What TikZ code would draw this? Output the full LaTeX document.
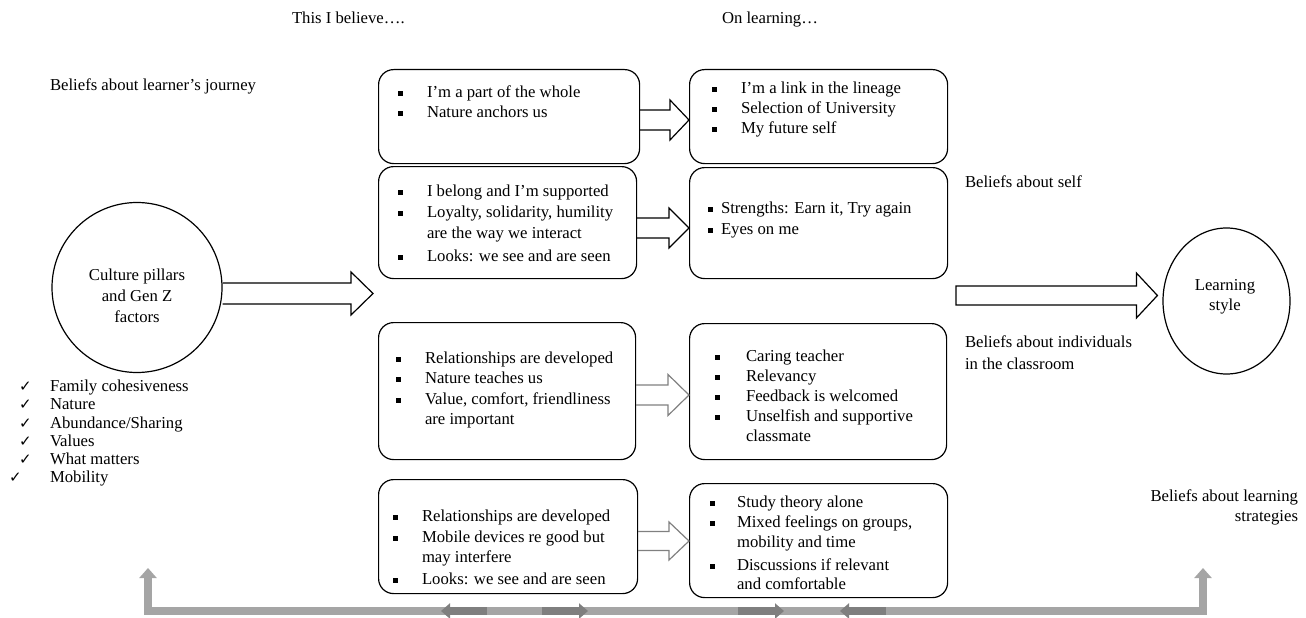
\documentclass[tikz,border=0pt]{standalone}
\usepackage{fontspec}
\setmainfont{Liberation Serif}
\newfontfamily\symf{DejaVu Sans}
\usetikzlibrary{calc,arrows.meta,shapes.geometric}
\definecolor{lgray}{HTML}{A5A5A5}
\definecolor{dgray}{HTML}{7F7F7F}
\definecolor{agray}{HTML}{808080}
\newcommand\fs{\fontsize{16.7}{20}\selectfont}
% text line: name, x, y(centre), text
\newcommand\tline[4]{\node[txt,anchor=base west] (#1) at (#2,#3+5.5) {#4};}
% bullet: name, x(left), y(centre)
\newcommand\bul[3]{\node[bulsq] (#1) at (#2+2.5,#3+1) {};}
% block arrow: style, start, tip, shaft half, head half, head length
\newcommand\barrow[6]{%
  \draw[#1] let \p1=#2, \p2=#3 in
  (\x1,\y1+#4) -- (\x2-#6,\y1+#4) -- (\x2-#6,\y1+#5) -- (\x2,\y2)
  -- (\x2-#6,\y1-#5) -- (\x2-#6,\y1-#4) -- (\x1,\y1-#4);}
\begin{document}
\begin{tikzpicture}[x=1pt,y=-1pt,
  txt/.style={font=\fs, inner sep=0pt, outer sep=0pt},
  bx/.style={draw, line width=1.2pt, rounded corners=15pt, anchor=north west, inner sep=0pt},
  bulsq/.style={fill=black, inner sep=0pt, minimum size=5pt},
  chk/.style={font=\symf\fontsize{15}{15}\selectfont, inner sep=0pt, anchor=base west},
  arblack/.style={draw=black, line width=1.2pt, line join=miter},
  argray/.style={draw=agray, line width=1.2pt, line join=miter}]
\useasboundingbox (0,0) rectangle (1306,618);

% headers and side labels
\tline{h1}{292}{18}{This I believe….}
\tline{h2}{722}{18}{On learning…}
\tline{lj}{50}{85}{Beliefs about learner’s journey}
\tline{bs}{965}{182}{Beliefs about self}
\tline{bi1}{965}{342}{Beliefs about individuals}
\tline{bi2}{965}{364}{in the classroom}
\node[txt,anchor=base east] (bls1) at (1298,501.5) {Beliefs about learning};
\node[txt,anchor=base east] (bls2) at (1298,521.5) {strategies};

% boxes
\node[bx, minimum width=261pt, minimum height=94pt] (a1) at (378,69) {};
\node[bx, minimum width=258pt, minimum height=94pt] (b1) at (689,69) {};
\node[bx, minimum width=258pt, minimum height=112pt] (a2) at (378,166) {};
\node[bx, minimum width=258pt, minimum height=111pt] (b2) at (689,167) {};
\node[bx, minimum width=257pt, minimum height=137pt] (a3) at (378,322) {};
\node[bx, minimum width=257pt, minimum height=136pt] (b3) at (689,323) {};
\node[bx, minimum width=259pt, minimum height=114pt] (a4) at (378,479) {};
\node[bx, minimum width=258pt, minimum height=114pt] (b4) at (689,483) {};

% box A1
\bul{a1b1}{398}{92}\tline{a1t1}{427}{92}{I’m a part of the whole}
\bul{a1b2}{398}{112}\tline{a1t2}{427}{112}{Nature anchors us}
% box B1
\bul{b1b1}{712}{88}\tline{b1t1}{741}{88}{I’m a link in the lineage}
\bul{b1b2}{712}{108}\tline{b1t2}{741}{108}{Selection of University}
\bul{b1b3}{712}{128}\tline{b1t3}{741}{128}{My future self}
% box A2
\bul{a2b1}{398}{191}\tline{a2t1}{427}{191}{I belong and I’m supported}
\bul{a2b2}{398}{212}\tline{a2t2}{427}{212}{Loyalty, solidarity, humility}
\tline{a2t3}{427}{233}{are the way we interact}
\bul{a2b3}{398}{256}\tline{a2t4}{427}{256}{Looks: we see and are seen}
% box B2
\bul{b2b1}{708}{208}\tline{b2t1}{721}{208}{Strengths: Earn it, Try again}
\bul{b2b2}{708}{229}\tline{b2t2}{721}{229}{Eyes on me}
% box A3
\bul{a3b1}{396}{358}\tline{a3t1}{425}{358}{Relationships are developed}
\bul{a3b2}{396}{378}\tline{a3t2}{425}{378}{Nature teaches us}
\bul{a3b3}{396}{399}\tline{a3t3}{425}{399}{Value, comfort, friendliness}
\tline{a3t4}{425}{419}{are important}
% box B3
\bul{b3b1}{715}{356}\tline{b3t1}{746}{356}{Caring teacher}
\bul{b3b2}{715}{376}\tline{b3t2}{746}{376}{Relevancy}
\bul{b3b3}{715}{396}\tline{b3t3}{746}{396}{Feedback is welcomed}
\bul{b3b4}{715}{416}\tline{b3t4}{746}{416}{Unselfish and supportive}
\tline{b3t5}{746}{436}{classmate}
% box A4
\bul{a4b1}{393}{516}\tline{a4t1}{422}{516}{Relationships are developed}
\bul{a4b2}{393}{537}\tline{a4t2}{422}{537}{Mobile devices re good but}
\tline{a4t3}{422}{557}{may interfere}
\bul{a4b3}{393}{579}\tline{a4t4}{422}{579}{Looks: we see and are seen}
% box B4
\bul{b4b1}{710}{502}\tline{b4t1}{737}{502}{Study theory alone}
\bul{b4b2}{710}{522}\tline{b4t2}{737}{522}{Mixed feelings on groups,}
\tline{b4t3}{737}{542}{mobility and time}
\bul{b4b3}{710}{565}\tline{b4t4}{737}{565}{Discussions if relevant}
\tline{b4t5}{737}{584}{and comfortable}

% arrows between boxes
\barrow{arblack}{(a1.east |- 0,120)}{(b1.west |- 0,120)}{10pt}{20pt}{19pt}
\barrow{arblack}{(a2.east |- 0,228)}{(b2.west |- 0,228)}{10pt}{20pt}{20pt}
\barrow{argray}{(a3.east |- 0,395)}{(b3.west |- 0,395)}{10pt}{20.5pt}{21pt}
\barrow{argray}{(a4.east |- 0,541)}{(b4.west |- 0,541)}{9.5pt}{19pt}{20pt}

% culture circle
\node[draw, circle, line width=1.2pt, minimum size=170pt, inner sep=0pt] (cp) at (137,287.5) {};
\node[txt, align=center, font=\fontsize{16.7}{21}\selectfont] (cpt) at (137,296) {Culture pillars\\and Gen Z\\factors};
\barrow{arblack}{(cp.east |- 0,293.5)}{(373,293.5)}{10.5pt}{21.5pt}{22pt}

% learning style ellipse
\node[draw, ellipse, line width=1.2pt, minimum width=127pt, minimum height=146pt, inner sep=0pt] (ls) at (1226.5,301) {};
\node[txt, align=center] (lst) at (1225,297) {Learning\\style};
\coordinate (rs) at (956,295.5);
\draw[arblack] let \p1=(rs), \p2=(ls.west |- rs) in
  (\x1,\y1+9.5pt) -- (\x2-26pt,\y1+9.5pt) -- (\x2-26pt,\y1+22.5pt) -- (\x2-5pt,\y2)
  -- (\x2-26pt,\y1-22.5pt) -- (\x2-26pt,\y1-9.5pt) -- (\x1,\y1-9.5pt) -- cycle;

% checklist
\node[chk] (c1) at (19,391) {✓};\tline{k1}{50}{386}{Family cohesiveness}
\node[chk] (c2) at (19,409) {✓};\tline{k2}{50}{404}{Nature}
\node[chk] (c3) at (19,428) {✓};\tline{k3}{50}{423}{Abundance/Sharing}
\node[chk] (c4) at (19,446) {✓};\tline{k4}{50}{441}{Values}
\node[chk] (c5) at (19,464) {✓};\tline{k5}{50}{459}{What matters}
\node[chk] (c6) at (9,482) {✓};\tline{k6}{50}{477}{Mobility}

% bottom feedback line
\coordinate (bl1) at (148,568);
\coordinate (bl2) at (148,611);
\coordinate (br2) at (1203,611);
\coordinate (br1) at (1203,568);
\draw[lgray, line width=7.5pt, {Triangle[width=17pt,length=10pt]}-{Triangle[width=17pt,length=10pt]}]
  (bl1) -- (bl2) -- (br2) -- (br1);
\coordinate (d1s) at (487,611); \coordinate (d1e) at (441,611);
\coordinate (d2s) at (542,611); \coordinate (d2e) at (588,611);
\coordinate (d3s) at (738,611); \coordinate (d3e) at (784,611);
\coordinate (d4s) at (886,611); \coordinate (d4e) at (840,611);
\foreach \s/\e in {d1s/d1e,d2s/d2e,d3s/d3e,d4s/d4e}
  \draw[dgray, line width=7.5pt, -{Triangle[width=15pt,length=9pt]}] (\s) -- (\e);
\end{tikzpicture}
\end{document}
